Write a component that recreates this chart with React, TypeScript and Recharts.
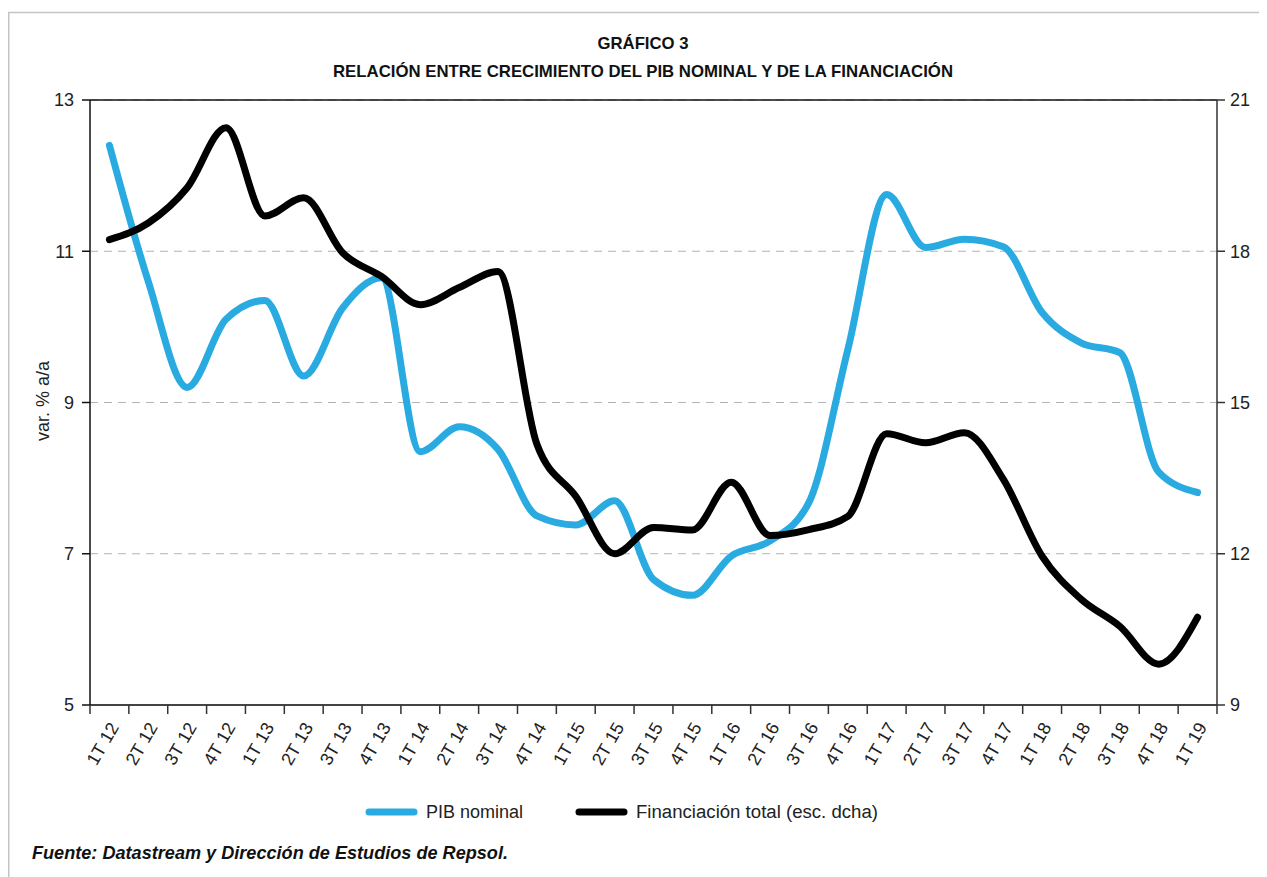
import React from 'react';
import {
  LineChart,
  Line,
  XAxis,
  YAxis,
  CartesianGrid,
  ReferenceLine,
} from 'recharts';

// quarters on the x axis
const quarters = [
  '1T 12', '2T 12', '3T 12', '4T 12',
  '1T 13', '2T 13', '3T 13', '4T 13',
  '1T 14', '2T 14', '3T 14', '4T 14',
  '1T 15', '2T 15', '3T 15', '4T 15',
  '1T 16', '2T 16', '3T 16', '4T 16',
  '1T 17', '2T 17', '3T 17', '4T 17',
  '1T 18', '2T 18', '3T 18', '4T 18',
  '1T 19',
];

// PIB nominal, var. % a/a (left scale)
const pibNominal = [
  12.4, 10.6, 9.2, 10.1,
  10.35, 9.35, 10.25, 10.65,
  8.35, 8.68, 8.38, 7.5,
  7.38, 7.7, 6.66, 6.45,
  6.97, 7.17, 7.68, 9.7,
  11.75, 11.05, 11.16, 11.06,
  10.19, 9.79, 9.66, 8.08,
  7.81,
];

// Financiación total (right scale)
const financiacion = [
  18.23, 18.56, 19.26, 20.45,
  18.7, 19.06, 17.97, 17.5,
  16.94, 17.28, 17.6, 14.17,
  13.14, 12.0, 12.52, 12.47,
  13.42, 12.36, 12.48, 12.74,
  14.38, 14.2, 14.4, 13.48,
  11.95, 11.1, 10.56, 9.81,
  10.74,
];

const leftTicks = [5, 7, 9, 11, 13];
const rightTicks = [9, 12, 15, 18, 21];

const data = quarters.map((q, i) => ({
  q,
  pib: pibNominal[i],
  fin: financiacion[i],
}));

const BLUE = '#29ABE2';
const FONT = "'Liberation Sans', Arial, Helvetica, sans-serif";
const NARROW = "'Liberation Sans Narrow', 'Liberation Sans', Arial, sans-serif";

const W = 1259;
const H = 780;
const PLOT_W = 1127;
const STEP = PLOT_W / quarters.length;

const QuarterTick = (props: any) => {
  const { x, y, payload, index } = props;
  const axisY = y - 9;
  const half = STEP / 2;
  return (
    <g>
      <line x1={x - half} y1={axisY} x2={x - half} y2={axisY + 9} stroke="#333" strokeWidth={1.5} />
      {index === quarters.length - 1 && (
        <line x1={x + half} y1={axisY} x2={x + half} y2={axisY + 9} stroke="#333" strokeWidth={1.5} />
      )}
      <g transform={`translate(${x + 10},${axisY + 22})`}>
        <text
          transform="rotate(-60)"
          textAnchor="end"
          fontFamily={FONT}
          fontSize={18}
          fill="#222"
        >
          {payload.value}
        </text>
      </g>
    </g>
  );
};

export default function App() {
  return (
    <div style={{ position: 'relative', width: W, height: 869, overflow: 'hidden' }}>
      <LineChart
        width={W}
        height={H}
        data={data}
        margin={{ top: 92, right: 0, left: 22, bottom: 13 }}
      >
        <CartesianGrid
          yAxisId="left"
          vertical={false}
          stroke="#b3b3b3"
          strokeDasharray="8 6"
          strokeWidth={1.2}
        />
        <XAxis
          dataKey="q"
          height={70}
          interval={0}
          padding={{ left: STEP / 2, right: STEP / 2 }}
          axisLine={{ stroke: '#444', strokeWidth: 2 }}
          tickLine={false}
          tickSize={9}
          tickMargin={0}
          tick={<QuarterTick />}
        />
        <YAxis
          yAxisId="left"
          width={60}
          domain={[5, 13]}
          ticks={leftTicks}
          interval={0}
          axisLine={{ stroke: '#111', strokeWidth: 1.5 }}
          tickLine={{ stroke: '#111', strokeWidth: 1.5 }}
          tickSize={8}
          tickMargin={8}
          tick={{ fontFamily: FONT, fontSize: 18, fill: '#222' }}
        />
        <YAxis
          yAxisId="right"
          orientation="right"
          width={50}
          domain={[9, 21]}
          ticks={rightTicks}
          interval={0}
          axisLine={{ stroke: '#333', strokeWidth: 1.5 }}
          tickLine={{ stroke: '#333', strokeWidth: 1.5 }}
          tickSize={8}
          tickMargin={5}
          tick={{ fontFamily: FONT, fontSize: 18, fill: '#222' }}
        />
        <ReferenceLine yAxisId="left" y={13} stroke="#111" strokeWidth={1.5} />
        <Line
          yAxisId="left"
          type="monotone"
          dataKey="pib"
          stroke={BLUE}
          strokeWidth={7}
          strokeLinecap="round"
          strokeLinejoin="round"
          dot={false}
          isAnimationActive={false}
        />
        <Line
          yAxisId="right"
          type="monotone"
          dataKey="fin"
          stroke="#000"
          strokeWidth={7}
          strokeLinecap="round"
          strokeLinejoin="round"
          dot={false}
          isAnimationActive={false}
        />
      </LineChart>

      <svg
        width={W}
        height={869}
        style={{ position: 'absolute', left: 0, top: 0, pointerEvents: 'none' }}
      >
        {/* frame */}
        <line x1={0} y1={4.5} x2={W} y2={4.5} stroke="#c4c4c4" strokeWidth={1.5} />
        <line x1={0.75} y1={4} x2={0.75} y2={869} stroke="#c4c4c4" strokeWidth={1.5} />

        {/* title */}
        <text x={635} y={41} textAnchor="middle" fontFamily={NARROW} fontWeight="bold" fontSize={17}
          textLength={91} lengthAdjust="spacingAndGlyphs" fill="#111">
          GRÁFICO 3
        </text>
        <text x={635} y={69} textAnchor="middle" fontFamily={NARROW} fontWeight="bold" fontSize={17}
          textLength={620} lengthAdjust="spacingAndGlyphs" fill="#111">
          RELACIÓN ENTRE CRECIMIENTO DEL PIB NOMINAL Y DE LA FINANCIACIÓN
        </text>

        {/* y axis title */}
        <text transform="translate(35,393) rotate(-90)" textAnchor="middle" dominantBaseline="central"
          fontFamily={FONT} fontSize={18} fill="#222">
          var. % a/a
        </text>

        {/* legend */}
        <line x1={361} y1={804} x2={406} y2={804} stroke={BLUE} strokeWidth={7} strokeLinecap="round" />
        <text x={418} y={810} fontFamily={FONT} fontSize={18} fill="#222">PIB nominal</text>
        <line x1={571} y1={804} x2={616} y2={804} stroke="#000" strokeWidth={7} strokeLinecap="round" />
        <text x={628} y={810} fontFamily={FONT} fontSize={18} fill="#222"
          textLength={242} lengthAdjust="spacingAndGlyphs">
          Financiación total (esc. dcha)
        </text>

        {/* source */}
        <text x={24} y={851} fontFamily={NARROW} fontWeight="bold" fontStyle="italic" fontSize={18}
          textLength={476} lengthAdjust="spacingAndGlyphs" fill="#111">
          Fuente: Datastream y Dirección de Estudios de Repsol.
        </text>
      </svg>
    </div>
  );
}
